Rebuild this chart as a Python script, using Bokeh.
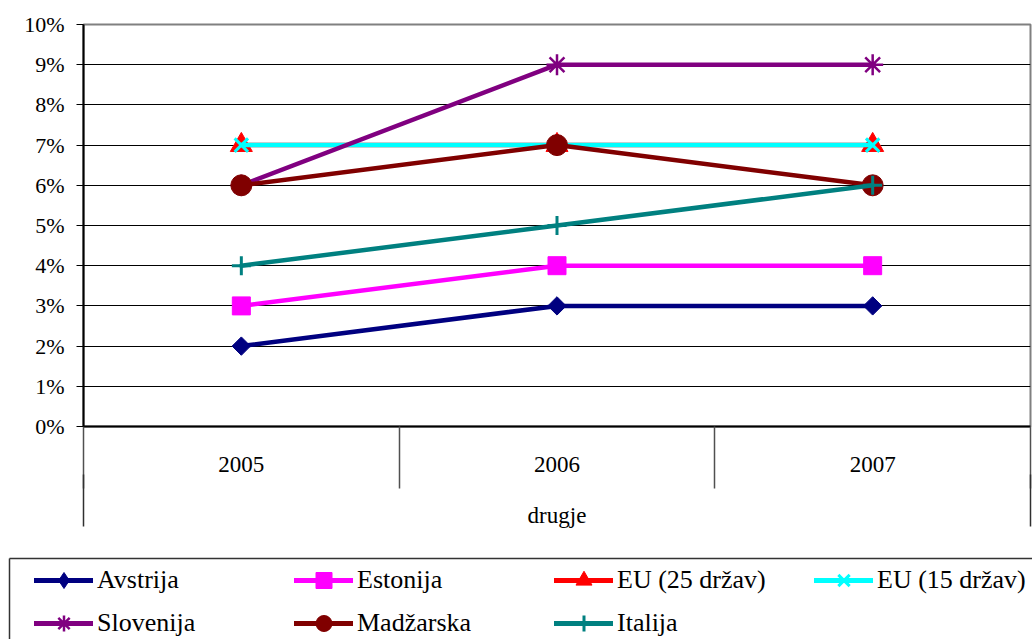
import math
from bokeh.plotting import figure
from bokeh.layouts import column
from bokeh.models import (Range1d, FixedTicker, LinearAxis, PrintfTickFormatter,
                          Legend, LegendItem)
from bokeh.embed import file_html
from bokeh.resources import INLINE

# ---- data ----
years = ["2005", "2006", "2007"]
group_label = "drugje"
avstrija = [2, 3, 3]
estonija = [3, 4, 4]
eu25 = [7, 7, 7]
eu15 = [7, 7, 7]
slovenija = [6, 9, 9]
madzarska = [6, 7, 6]
italija = [4, 5, 6]
y_ticks = list(range(0, 11))

names = ["Avstrija", "Estonija", "EU (25 držav)", "EU (15 držav)",
         "Slovenija", "Madžarska", "Italija"]
values = [avstrija, estonija, eu25, eu15, slovenija, madzarska, italija]

# ---- styles ----
styles = [
    dict(color="#000080", marker="square", legend_marker="diamond", size=13, angle=math.pi / 4, lw=1),
    dict(color="#FF00FF", marker="square", legend_marker="square", size=18, angle=0, lw=1),
    dict(color="#FF0000", marker="triangle", legend_marker="triangle", size=22, angle=0, lw=1),
    dict(color="#00FFFF", marker="x", legend_marker="x", size=19, angle=0, lw=3),
    dict(color="#800080", marker="asterisk", legend_marker="asterisk", size=21, angle=0, lw=2.5),
    dict(color="#800000", marker="circle", legend_marker="circle", size=21, angle=0, lw=1),
    dict(color="#008080", marker="cross", legend_marker="cross", size=19, angle=0, lw=3),
]
FONT = "Liberation Serif"
W = 1032

xs = [i + 0.5 for i in range(len(years))]

# ---------------- main chart ----------------
p = figure(width=W, height=530, x_range=Range1d(0, len(years)),
           y_range=Range1d(0, 10), output_backend="svg", toolbar_location=None,
           x_axis_type=None, min_border_left=83, min_border_right=2,
           min_border_top=24, min_border_bottom=102)
p.frame_align = False
p.background_fill_color = "white"
p.border_fill_color = "white"
p.outline_line_color = "#808080"
p.outline_line_width = 2

p.yaxis.ticker = FixedTicker(ticks=y_ticks)
p.yaxis.formatter = PrintfTickFormatter(format="%d%%")
p.yaxis.major_label_text_font = FONT
p.yaxis.major_label_text_font_size = "22px"
p.yaxis.major_label_text_color = "black"
p.yaxis.major_tick_in = 0
p.yaxis.major_tick_out = 7
p.yaxis.major_tick_line_color = "black"
p.yaxis.axis_line_color = "black"
p.yaxis.axis_line_width = 2
p.yaxis.major_label_standoff = 12
p.ygrid.grid_line_color = "black"
p.ygrid.grid_line_width = 1
p.xgrid.grid_line_color = None

ax1 = LinearAxis(
    ticker=FixedTicker(ticks=xs, minor_ticks=list(range(len(years) + 1))),
    major_label_overrides={x: y for x, y in zip(xs, years)},
    major_tick_in=0, major_tick_out=0,
    minor_tick_in=0, minor_tick_out=62,
    minor_tick_line_color="#505050", minor_tick_line_width=1.5,
    axis_line_color="black", axis_line_width=2,
    major_label_standoff=-32,
    major_label_text_font=FONT, major_label_text_font_size="23px",
    major_label_text_color="black")
p.add_layout(ax1, "below")

ax2 = LinearAxis(
    ticker=FixedTicker(ticks=[len(years) / 2], minor_ticks=[0, len(years)]),
    major_label_overrides={len(years) / 2: group_label},
    major_tick_in=0, major_tick_out=0,
    minor_tick_in=0, minor_tick_out=52,
    minor_tick_line_color="#303030", minor_tick_line_width=1.5,
    axis_line_color=None,
    major_label_standoff=-24,
    major_label_text_font=FONT, major_label_text_font_size="23px",
    major_label_text_color="black")
p.add_layout(ax2, "below")

for vals, st in zip(values, styles):
    p.line(xs, vals, line_color=st["color"], line_width=4.5, line_cap="round")
    p.scatter(xs, vals, marker=st["marker"], size=st["size"], angle=st["angle"],
              fill_color=st["color"], line_color=st["color"], line_width=st["lw"])

# ---------------- legend strip ----------------
# series are re-drawn here only to feed the legend; the ranges keep them off-frame
p2 = figure(width=W, height=109, x_range=Range1d(100, 101), y_range=Range1d(100, 101),
            output_backend="svg", toolbar_location=None,
            x_axis_type=None, y_axis_type=None,
            min_border_left=9, min_border_top=28, min_border_right=0, min_border_bottom=0)
p2.frame_align = False
p2.outline_line_color = None
p2.background_fill_color = "white"
p2.border_fill_color = "white"
p2.xgrid.grid_line_color = None
p2.ygrid.grid_line_color = None

top_edge = LinearAxis(ticker=FixedTicker(ticks=[]), axis_line_color="#333333",
                      axis_line_width=1.5, major_tick_out=0, major_tick_in=0,
                      minor_tick_out=0, minor_tick_in=0, major_label_text_font_size="0px")
left_edge = LinearAxis(ticker=FixedTicker(ticks=[]), axis_line_color="#333333",
                       axis_line_width=1.5, major_tick_out=0, major_tick_in=0,
                       minor_tick_out=0, minor_tick_in=0, major_label_text_font_size="0px")
p2.add_layout(top_edge, "above")
p2.add_layout(left_edge, "left")

items = []
for name, vals, st in zip(names, values, styles):
    lr = p2.line(xs, vals, line_color=st["color"], line_width=5, line_cap="round")
    sr = p2.scatter(xs, vals, marker=st["legend_marker"], size=st["size"],
                    fill_color=st["color"], line_color=st["color"], line_width=st["lw"])
    items.append(LegendItem(label=name, renderers=[lr, sr]))

legend = Legend(items=items, ncols=4, orientation="horizontal",
                location=(25, -4), border_line_color=None,
                background_fill_alpha=0, padding=0, margin=0, spacing=3,
                glyph_width=59, glyph_height=40, label_standoff=4,
                label_width=194, label_height=20,
                label_text_font=FONT, label_text_font_size="26px",
                label_text_color="black")
p2.add_layout(legend, "center")

open("out.html", "w").write(file_html(column(p, p2, spacing=0), INLINE))
